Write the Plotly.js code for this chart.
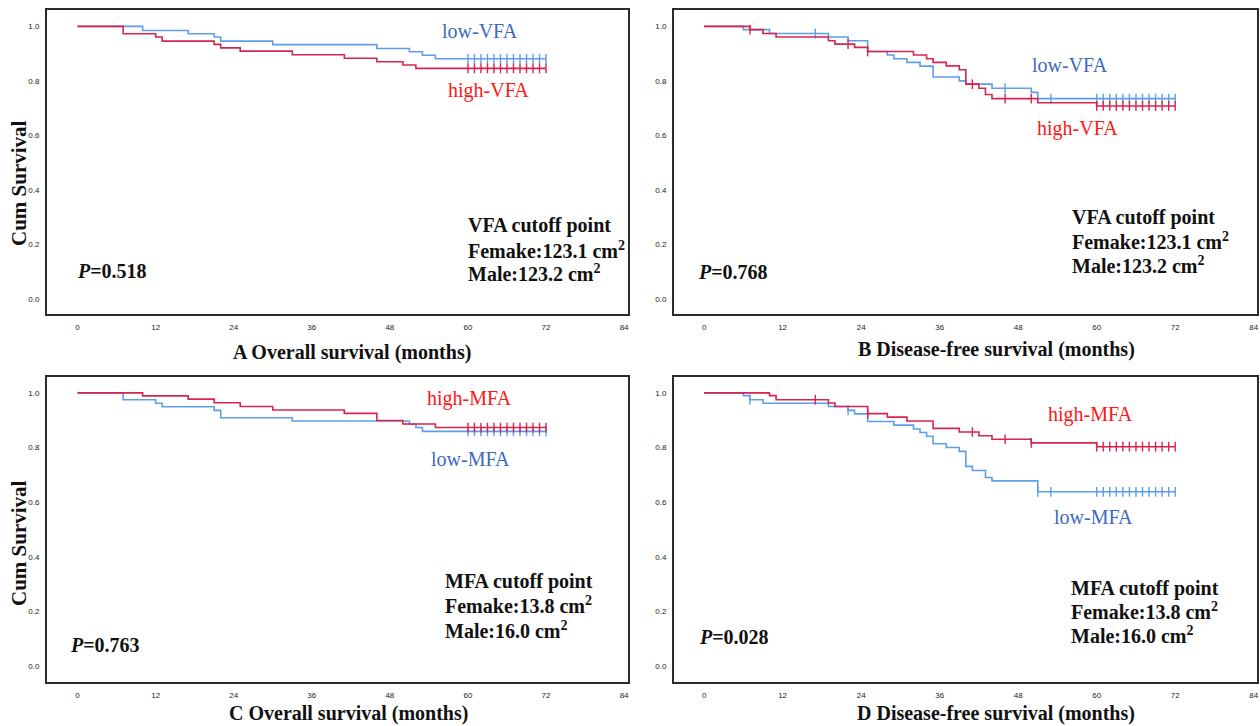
<!DOCTYPE html>
<html>
<head>
<meta charset="utf-8">
<script src="https://cdn.plot.ly/plotly-3.0.1.min.js"></script>
<style>html,body{margin:0;padding:0;background:#fff;}#chart{width:1260px;height:726px;}</style>
</head>
<body>
<div id="chart"></div>
<script>
// ---------------- DATA ----------------
const xTicks = [0, 12, 24, 36, 48, 60, 72, 84];
const yTicks = [0, 0.2, 0.4, 0.6, 0.8, 1.0];
const followEnd = 72;
const endCensors = [60, 61, 62, 63, 64, 65, 66, 67, 68, 69, 70, 71, 72];

// A: Overall survival by VFA
const osLowVFA_t = [10, 17, 21, 22, 30, 46, 51, 53, 55];
const osLowVFA_s = [0.985, 0.973, 0.961, 0.946, 0.933, 0.919, 0.907, 0.894, 0.881];
const osLowVFA_c = [];
const osHighVFA_t = [7, 12, 13, 21, 22, 25, 33, 41, 46, 50, 52];
const osHighVFA_s = [0.973, 0.961, 0.946, 0.934, 0.921, 0.909, 0.896, 0.883, 0.870, 0.858, 0.846];
const osHighVFA_c = [];

// B: Disease-free survival by VFA
const dfsLowVFA_t = [6, 10, 19, 22, 25, 28, 29, 31, 33, 35, 39, 40, 44, 50, 51];
const dfsLowVFA_s = [0.988, 0.974, 0.961, 0.947, 0.908, 0.895, 0.881, 0.868, 0.854, 0.814, 0.800, 0.788, 0.773, 0.758, 0.735];
const dfsLowVFA_c = [17, 46, 53];
const dfsHighVFA_t = [7, 9, 11, 19, 20, 23, 25, 32, 34, 35, 37, 39, 40, 42, 43, 44, 51, 60];
const dfsHighVFA_s = [0.988, 0.974, 0.961, 0.947, 0.935, 0.923, 0.908, 0.895, 0.881, 0.868, 0.855, 0.841, 0.788, 0.773, 0.750, 0.735, 0.720, 0.708];
const dfsHighVFA_c = [7, 22, 25, 41, 46, 50];

// C: Overall survival by MFA
const osHighMFA_t = [10, 17, 21, 25, 30, 41, 46, 50, 55];
const osHighMFA_s = [0.989, 0.977, 0.964, 0.950, 0.937, 0.925, 0.899, 0.886, 0.873];
const osHighMFA_c = [];
const osLowMFA_t = [7, 12, 13, 21, 22, 33, 51, 52, 53];
const osLowMFA_s = [0.975, 0.962, 0.949, 0.936, 0.909, 0.897, 0.885, 0.873, 0.859];
const osLowMFA_c = [];

// D: Disease-free survival by MFA
const dfsHighMFA_t = [10, 11, 19, 20, 25, 28, 31, 35, 39, 42, 44, 50, 60];
const dfsHighMFA_s = [0.990, 0.975, 0.963, 0.950, 0.924, 0.911, 0.897, 0.870, 0.857, 0.843, 0.830, 0.817, 0.803];
const dfsHighMFA_c = [17, 25, 41, 46, 50];
const dfsLowMFA_t = [6, 7, 9, 19, 22, 23, 25, 29, 32, 33, 34, 35, 37, 39, 40, 41, 43, 44, 51];
const dfsLowMFA_s = [0.990, 0.975, 0.962, 0.950, 0.936, 0.923, 0.895, 0.882, 0.868, 0.855, 0.841, 0.814, 0.800, 0.786, 0.731, 0.716, 0.690, 0.678, 0.638];
const dfsLowMFA_c = [7, 22, 51, 53];

// Texts
const panelTitles = ["A Overall survival (months)", "B Disease-free survival (months)",
                     "C Overall survival (months)", "D Disease-free survival (months)"];
const yTitle = "Cum Survival";
const pValues = ["0.518", "0.768", "0.763", "0.028"];
const lowLabels = ["low-VFA", "low-VFA", "low-MFA", "low-MFA"];
const highLabels = ["high-VFA", "high-VFA", "high-MFA", "high-MFA"];
const cutoffHead = ["VFA cutoff point", "VFA cutoff point", "MFA cutoff point", "MFA cutoff point"];
const cutoffFemale = ["123.1", "123.1", "13.8", "13.8"];
const cutoffMale = ["123.2", "123.2", "16.0", "16.0"];

// ---------------- STYLE ----------------
const W = 1260, H = 726;
const BLUE_LINE = '#5e9ee8', RED_LINE = '#d6264f';
const BLUE_TXT = '#3b69c2', RED_TXT = '#ff1616';
const SERIF = '"Liberation Serif", "Times New Roman", serif';
const px = v => v / W;
const py = v => 1 - v / H;

function survAt(t, times, surv) {
  let s = 1;
  for (let i = 0; i < times.length; i++) if (times[i] <= t) s = surv[i];
  return s;
}

const traces = [];
function addSeries(times, surv, cens, color, axNum) {
  const xa = axNum === 1 ? 'x' : 'x' + axNum;
  const ya = axNum === 1 ? 'y' : 'y' + axNum;
  const xs = [0].concat(times, [followEnd]);
  const ys = [1].concat(surv, [surv[surv.length - 1]]);
  traces.push({x: xs, y: ys, xaxis: xa, yaxis: ya, type: 'scatter', mode: 'lines',
    line: {shape: 'hv', color: color, width: 1.6}, hoverinfo: 'skip', showlegend: false});
  const allC = cens.concat(endCensors);
  traces.push({x: allC, y: allC.map(t => survAt(t, times, surv)), xaxis: xa, yaxis: ya,
    type: 'scatter', mode: 'markers',
    marker: {symbol: 'line-ns', size: 7, line: {width: 1.4, color: color}, color: color},
    hoverinfo: 'skip', showlegend: false});
}

addSeries(osLowVFA_t, osLowVFA_s, osLowVFA_c, BLUE_LINE, 1);
addSeries(osHighVFA_t, osHighVFA_s, osHighVFA_c, RED_LINE, 1);
addSeries(dfsLowVFA_t, dfsLowVFA_s, dfsLowVFA_c, BLUE_LINE, 2);
addSeries(dfsHighVFA_t, dfsHighVFA_s, dfsHighVFA_c, RED_LINE, 2);
addSeries(osLowMFA_t, osLowMFA_s, osLowMFA_c, BLUE_LINE, 3);
addSeries(osHighMFA_t, osHighMFA_s, osHighMFA_c, RED_LINE, 3);
addSeries(dfsLowMFA_t, dfsLowMFA_s, dfsLowMFA_c, BLUE_LINE, 4);
addSeries(dfsHighMFA_t, dfsHighMFA_s, dfsHighMFA_c, RED_LINE, 4);

// panel boxes in pixels: [left, right, top, bottom]
const boxes = [[47, 628, 10, 314], [674, 1257, 10, 314], [47, 628, 377, 682], [674, 1257, 377, 682]];
const xRanges = [[-4.7, 84.6], [-4.6, 84.5], [-4.7, 84.6], [-4.6, 84.5]];
const yRanges = [[-0.055, 1.06], [-0.055, 1.06], [-0.058, 1.058], [-0.058, 1.058]];

const layout = {
  width: W, height: H, margin: {l: 0, r: 0, t: 0, b: 0},
  paper_bgcolor: '#fff', plot_bgcolor: '#fff', showlegend: false,
  annotations: []
};
boxes.forEach((b, i) => {
  const n = i === 0 ? '' : String(i + 1);
  const axCommon = {showline: true, mirror: true, linecolor: '#2b2b2b', linewidth: 2,
    showgrid: false, zeroline: false, ticks: '', ticklabelstandoff: 4,
    tickfont: {family: 'Arial, "Liberation Sans", sans-serif', size: 8, color: '#222'}, fixedrange: true};
  layout['xaxis' + n] = Object.assign({}, axCommon, {domain: [px(b[0]), px(b[1])], range: xRanges[i],
    tickmode: 'array', tickvals: xTicks, ticktext: xTicks.map(String), anchor: 'y' + n});
  layout['yaxis' + n] = Object.assign({}, axCommon, {domain: [py(b[3]), py(b[2])], range: yRanges[i],
    tickmode: 'array', tickvals: yTicks, ticktext: yTicks.map(v => v.toFixed(1)), anchor: 'x' + n});
});

function ann(text, x, y, size, color, xanchor, extra) {
  layout.annotations.push(Object.assign({text: text, x: px(x), y: py(y), xref: 'paper', yref: 'paper',
    xanchor: xanchor || 'center', yanchor: 'middle', showarrow: false,
    font: {family: SERIF, size: size, color: color}}, extra || {}));
}

// text positions (pixels)
const titlePos = [[352, 352], [996, 349], [348, 713], [996, 713]];
const lowPos = [[480, 31], [1070, 65], [470, 459], [1093, 517]];
const highPos = [[488, 91], [1077, 128], [469, 398], [1090, 415]];
const cutPos = [[466, 226, 250, 273], [1070, 217, 241, 265], [443, 581, 605, 630], [1069, 588, 611, 635]];
const pPos = [[75, 271], [696, 272], [68, 645], [697, 637]];

for (let i = 0; i < 4; i++) {
  ann('<b>' + panelTitles[i] + '</b>', titlePos[i][0], titlePos[i][1], 20, '#111');
  ann(lowLabels[i], lowPos[i][0], lowPos[i][1], 20, BLUE_TXT);
  ann(highLabels[i], highPos[i][0], highPos[i][1], 20, RED_TXT);
  ann('<b>' + cutoffHead[i] + '</b>', cutPos[i][0], cutPos[i][1], 20, '#111', 'left');
  ann('<b>Femake:' + cutoffFemale[i] + ' cm<sup>2</sup></b>', cutPos[i][0], cutPos[i][2], 20, '#111', 'left');
  ann('<b>Male:' + cutoffMale[i] + ' cm<sup>2</sup></b>', cutPos[i][0], cutPos[i][3], 20, '#111', 'left');
  ann('<b><i>P</i>=' + pValues[i] + '</b>', pPos[i][0], pPos[i][1], 20, '#111', 'left');
}
ann('<b>' + yTitle + '</b>', 19, 183, 21, '#111', 'center', {textangle: -90});
ann('<b>' + yTitle + '</b>', 19, 543, 21, '#111', 'center', {textangle: -90});

Plotly.newPlot('chart', traces, layout, {staticPlot: true, displayModeBar: false});
</script>
</body>
</html>
